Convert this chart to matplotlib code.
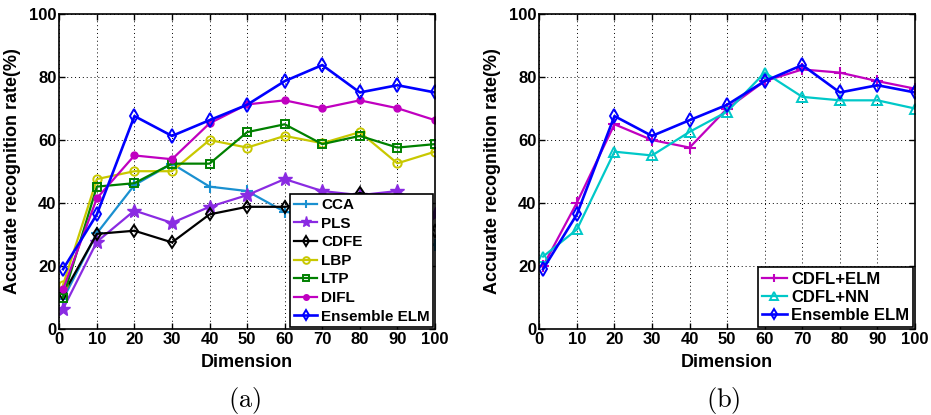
import numpy as np
import matplotlib
matplotlib.use("Agg")
import matplotlib.pyplot as plt

plt.rcParams["font.family"] = ["Liberation Sans", "DejaVu Sans"]
plt.rcParams["font.weight"] = "bold"
plt.rcParams["mathtext.fontset"] = "cm"

# ============================================================
# Datos
# ============================================================
dims = [1, 10, 20, 30, 40, 50, 60, 70, 80, 90, 100]

cca = [9.5, 30.4, 45.7, 52.5, 45.2, 43.8, 37.2, 36.0, 33.5, 30.5, 26.7]
pls = [6.4, 27.7, 37.6, 33.7, 38.8, 42.5, 47.6, 43.8, 42.5, 43.8, 36.4]
cdfe = [11.0, 30.2, 31.2, 27.5, 36.4, 38.8, 38.8, 40.0, 43.2, 40.5, 31.2]
lbp = [14.0, 47.6, 50.1, 50.1, 60.0, 57.6, 61.3, 59.0, 62.5, 52.6, 56.3]
ltp = [10.0, 45.2, 46.3, 52.5, 52.5, 62.5, 65.0, 58.7, 61.3, 57.6, 58.7]
difl = [12.6, 41.5, 55.1, 53.9, 65.3, 71.3, 72.6, 70.1, 72.6, 70.1, 66.3]
ens_elm = [19.0, 36.4, 67.6, 61.3, 66.3, 71.2, 78.7, 83.8, 75.1, 77.4, 75.1]

cdfl_elm = [20.0, 40.1, 65.0, 60.0, 57.6, 70.0, 78.7, 82.4, 81.4, 78.7, 76.3]
cdfl_nn = [23.0, 31.6, 56.3, 55.1, 62.6, 69.0, 81.4, 73.7, 72.6, 72.6, 70.0]

FS = 12


def style_axes(ax):
    ax.set_xlim(0, 100)
    ax.set_ylim(0, 100)
    ax.set_xticks(np.arange(0, 101, 10))
    ax.set_yticks(np.arange(0, 101, 20))
    ax.grid(True, linestyle=(0, (1, 3)), color="black", linewidth=0.7)
    ax.tick_params(direction="in", top=True, right=True, labelsize=FS, length=4, width=1, pad=2)
    for t in ax.get_xticklabels() + ax.get_yticklabels():
        t.set_fontweight("bold")
    for s in ax.spines.values():
        s.set_linewidth(1.2)
    ax.set_xlabel("Dimension", fontsize=FS + 1, fontweight="bold", labelpad=5)
    ax.set_ylabel("Accurate recognition rate(%)", fontsize=FS + 1, fontweight="bold", labelpad=6)


def add_legend(ax, fs, spacing):
    leg = ax.legend(loc="lower right", fontsize=fs, frameon=True, fancybox=False,
                    edgecolor="black", borderaxespad=0.1, handlelength=1.5,
                    handletextpad=0.25, labelspacing=spacing, borderpad=0.25,
                    markerscale=0.8)
    leg.get_frame().set_linewidth(1.2)
    leg.get_frame().set_alpha(1)
    for t in leg.get_texts():
        t.set_fontweight("bold")
    return leg


fig = plt.figure(figsize=(9.31, 4.15), dpi=100)
ax1 = fig.add_axes([0.0637, 0.2072, 0.4035, 0.759])
ax2 = fig.add_axes([0.5793, 0.2072, 0.4035, 0.759])

lw = 1.6
ms = 6
ax1.plot(dims, cca, color="#1a90d0", marker="+", lw=lw, ms=ms + 2, mew=1.5, label="CCA")
ax1.plot(dims, pls, color="#8a2be2", marker="*", lw=lw, ms=ms + 4, label="PLS")
ax1.plot(dims, cdfe, color="black", marker="d", mfc="none", mew=1.4, lw=lw, ms=ms, label="CDFE")
ax1.plot(dims, lbp, color="#c8c800", marker="o", mfc="none", mew=1.4, lw=lw, ms=ms, label="LBP")
ax1.plot(dims, ltp, color="#008000", marker="s", mfc="none", mew=1.4, lw=lw, ms=ms, label="LTP")
ax1.plot(dims, difl, color="#c000c0", marker="o", lw=lw, ms=ms - 1, label="DIFL")
ax1.plot(dims, ens_elm, color="#0000ff", marker="d", mfc="none", mew=1.4, lw=lw + 0.3, ms=ms + 1, label="Ensemble ELM")
style_axes(ax1)
add_legend(ax1, 11, 0.3)

ax2.plot(dims, cdfl_elm, color="#c000c0", marker="+", lw=lw, ms=ms + 2, mew=1.5, label="CDFL+ELM")
ax2.plot(dims, cdfl_nn, color="#00c8c8", marker="^", mfc="none", mew=1.4, lw=lw, ms=ms + 1, label="CDFL+NN")
ax2.plot(dims, ens_elm, color="#0000ff", marker="d", mfc="none", mew=1.4, lw=lw + 0.3, ms=ms + 1, label="Ensemble ELM")
style_axes(ax2)
add_legend(ax2, 12, 0.2)

fig.text(245 / 931, 1 - 400 / 415, r"$\mathrm{(a)}$", ha="center", va="center", fontsize=19)
fig.text(723 / 931, 1 - 400 / 415, r"$\mathrm{(b)}$", ha="center", va="center", fontsize=19)

fig.savefig("out.png", dpi=100)
